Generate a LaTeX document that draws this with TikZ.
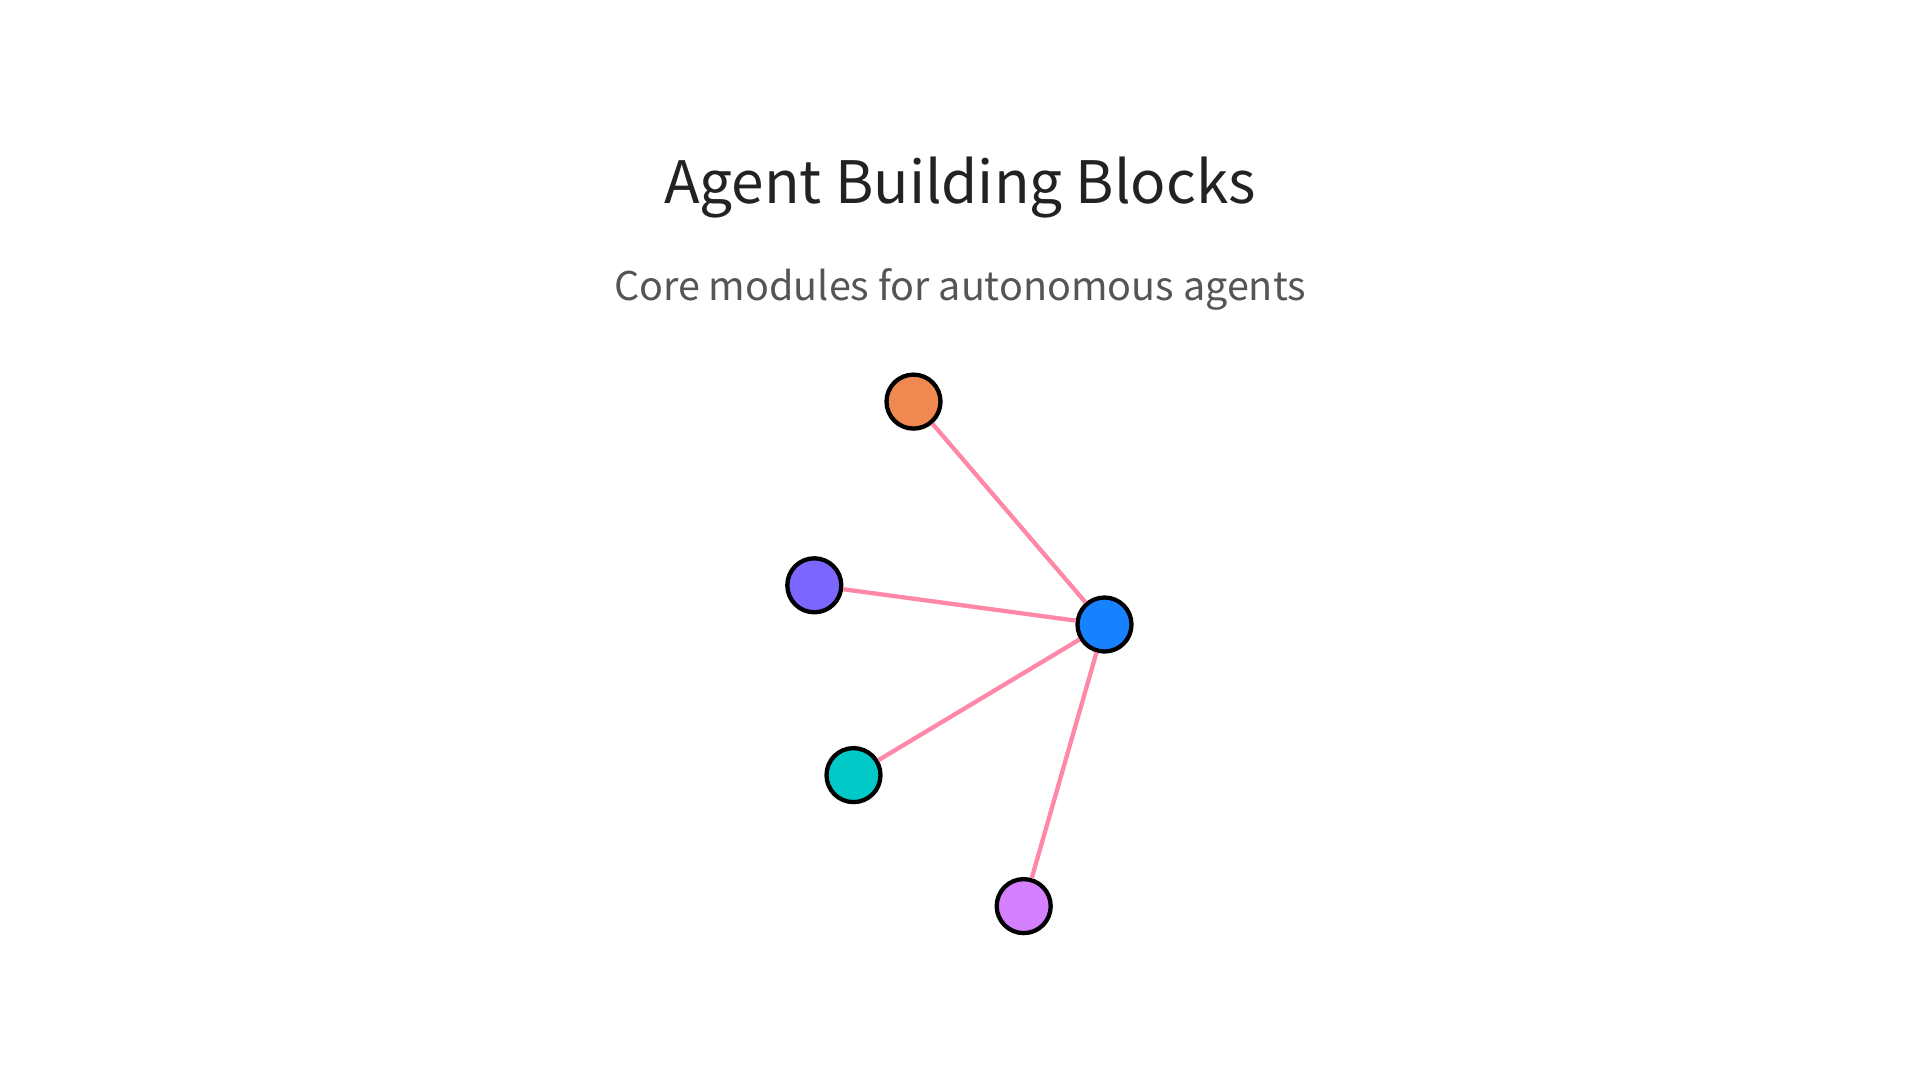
\documentclass[tikz,border=0pt]{standalone}
\usepackage{fontspec}
\setmainfont{Noto Sans CJK SC}
\definecolor{edgec}{HTML}{FF88A8}
\definecolor{corange}{HTML}{F0894F}
\definecolor{cpurple}{HTML}{7B66FF}
\definecolor{cblue}{HTML}{1682FF}
\definecolor{cteal}{HTML}{00C9C8}
\definecolor{clilac}{HTML}{D580FF}
\definecolor{titlec}{HTML}{222222}
\definecolor{subc}{HTML}{555555}
\begin{document}
\begin{tikzpicture}[x=1pt,y=-1pt,
  dot/.style={circle,draw=black,line width=4.3pt,minimum size=54pt,inner sep=0pt},
  link/.style={draw=edgec,line width=4.3pt}]
\useasboundingbox (0,0) rectangle (1920,1080);
\node[text=titlec,font=\fontsize{58.5}{70}\selectfont] (title) at (960,188) {Agent Building Blocks};
\node[text=subc,font=\fontsize{39.5}{48}\selectfont] (sub) at (960,289) {Core modules for autonomous agents};
\node[dot,fill=cblue] (hub) at (1104.5,624.5) {};
\node[dot,fill=corange] (a) at (913.5,401.6) {};
\node[dot,fill=cpurple] (b) at (814.3,585.3) {};
\node[dot,fill=cteal] (c) at (853.5,775.1) {};
\node[dot,fill=clilac] (d) at (1023.7,906.1) {};
\draw[link] (hub) -- (a);
\draw[link] (hub) -- (b);
\draw[link] (hub) -- (c);
\draw[link] (hub) -- (d);
\end{tikzpicture}
\end{document}
